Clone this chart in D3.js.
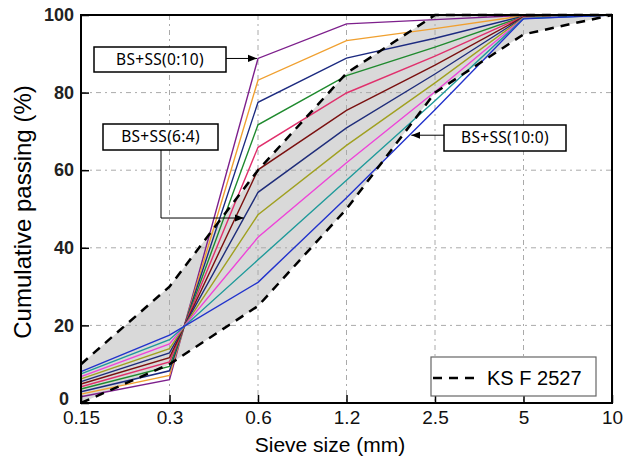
<!DOCTYPE html>
<html>
<head>
<meta charset="utf-8">
<script src="https://cdn.jsdelivr.net/npm/d3@7"></script>
<style>
  body { margin: 0; background: #fff; }
  svg { display: block; }
</style>
</head>
<body>
<div id="chart"></div>
<script>
// sieve sizes (mm), evenly spaced categories
const sieveSizes = ['0.15', '0.3', '0.6', '1.2', '2.5', '5', '10'];

// BS:SS mixing ratios, one line per ratio
const ratios = ['0:10', '1:9', '2:8', '3:7', '4:6', '5:5', '6:4', '7:3', '8:2', '9:1', '10:0'];
const lineColors = ['#7d1f8c', '#f0a030', '#1c2a80', '#1f8a2e', '#e0306c', '#7a1010',
                    '#1f2d7a', '#a0a020', '#ee44d8', '#1f9a9a', '#2233cc'];

const pass_0_10 = [1.6, 6.0, 88.8, 97.7, 98.8, 99.9, 100];
const pass_1_9  = [2.3, 7.1, 83.2, 93.4, 96.5, 99.8, 100];
const pass_2_8  = [2.9, 8.3, 77.5, 88.9, 94.0, 99.7, 100];
const pass_3_7  = [3.6, 9.4, 71.7, 84.4, 91.7, 99.6, 100];
const pass_4_6  = [4.2, 10.6, 65.9, 79.9, 89.4, 99.6, 100];
const pass_5_5  = [4.9, 11.7, 60.1, 75.4, 87.1, 99.5, 100];
const pass_6_4  = [5.5, 12.9, 54.3, 70.9, 84.8, 99.4, 100];
const pass_7_3  = [6.2, 14.0, 48.5, 66.4, 82.5, 99.3, 100];
const pass_8_2  = [6.8, 15.2, 42.7, 61.9, 80.2, 99.2, 100];
const pass_9_1  = [7.5, 16.3, 36.9, 57.4, 77.9, 99.1, 100];
const pass_10_0 = [8.1, 17.5, 31.1, 52.9, 75.6, 99.0, 100];

// KS F 2527 grading band
const ksUpper = [10, 30, 60, 85, 100, 100, 100];
const ksLower = [0, 10, 25, 50, 80, 95, 100];

const yTicks = [0, 20, 40, 60, 80, 100];

const series = [pass_0_10, pass_1_9, pass_2_8, pass_3_7, pass_4_6, pass_5_5,
                pass_6_4, pass_7_3, pass_8_2, pass_9_1, pass_10_0];

const width = 629;
const height = 460;
const plotLeft = 81, plotRight = 612, plotTop = 15, plotBottom = 403;

const svg = d3.select('#chart')
    .append('svg')
    .attr('width', width)
    .attr('height', height);

const x = d3.scalePoint()
    .domain(sieveSizes)
    .range([plotLeft, plotRight])
    .padding(0);

const y = d3.scaleLinear()
    .domain([0, 100])
    .range([plotBottom, plotTop]);

// gray band between KS limits
const band = sieveSizes.map((s, i) => ({ s: s, lo: ksLower[i], hi: ksUpper[i] }));
svg.append('path')
    .datum(band)
    .attr('d', d3.area().x(d => x(d.s)).y0(d => y(d.lo)).y1(d => y(d.hi)))
    .attr('fill', '#d9d9d9');

// grid lines
svg.append('g')
    .selectAll('line')
    .data(yTicks.filter(t => t > 0 && t < 100))
    .enter()
    .append('line')
    .attr('x1', plotLeft).attr('x2', plotRight)
    .attr('y1', d => y(d)).attr('y2', d => y(d))
    .attr('stroke', '#aaa')
    .attr('stroke-width', 1)
    .attr('stroke-dasharray', '5,4,2,4');

svg.append('g')
    .selectAll('line')
    .data(sieveSizes.slice(1, -1))
    .enter()
    .append('line')
    .attr('x1', d => x(d)).attr('x2', d => x(d))
    .attr('y1', plotTop).attr('y2', plotBottom)
    .attr('stroke', '#aaa')
    .attr('stroke-width', 1)
    .attr('stroke-dasharray', '5,4,2,4');

// mixture lines
const line = d3.line()
    .x((d, i) => x(sieveSizes[i]))
    .y(d => y(d));

svg.append('g')
    .selectAll('path')
    .data(series)
    .enter()
    .append('path')
    .attr('d', line)
    .attr('fill', 'none')
    .attr('stroke', (d, i) => lineColors[i])
    .attr('stroke-width', 1.4);

// KS limit dashed lines
[ksUpper, ksLower].forEach(lim => {
    svg.append('path')
        .datum(lim)
        .attr('d', line)
        .attr('fill', 'none')
        .attr('stroke', '#000')
        .attr('stroke-width', 2.5)
        .attr('stroke-dasharray', '9,7');
});

// axes with inward ticks
const xAxis = d3.axisBottom(x).tickSizeInner(-8).tickSizeOuter(0).tickPadding(8);
const gx = svg.append('g')
    .attr('transform', `translate(0,${plotBottom})`)
    .call(xAxis);
gx.select('.domain').remove();
gx.selectAll('line').attr('stroke', '#000').attr('stroke-width', 1.5);
gx.selectAll('text')
    .style('font-family', 'Liberation Sans, Arial, sans-serif')
    .style('font-size', '19px')
    .attr('fill', '#111');

const yAxis = d3.axisLeft(y).tickValues(yTicks).tickSizeInner(-8).tickSizeOuter(0).tickPadding(7);
const gy = svg.append('g')
    .attr('transform', `translate(${plotLeft},0)`)
    .call(yAxis);
gy.select('.domain').remove();
gy.selectAll('line').attr('stroke', '#000').attr('stroke-width', 1.5);
gy.selectAll('text')
    .style('font-family', 'Liberation Sans, Arial, sans-serif')
    .style('font-size', '18px')
    .style('font-weight', 'bold')
    .attr('fill', '#222');
gy.selectAll('.tick').filter(d => d === 0).select('text').attr('dy', '0.1em').attr('x', -12);

// frame
svg.append('rect')
    .attr('x', plotLeft).attr('y', plotTop)
    .attr('width', plotRight - plotLeft).attr('height', plotBottom - plotTop)
    .attr('fill', 'none')
    .attr('stroke', '#000')
    .attr('stroke-width', 2);

// axis titles
svg.append('text')
    .attr('x', 330)
    .attr('y', 452)
    .attr('text-anchor', 'middle')
    .style('font-family', 'Liberation Sans, Arial, sans-serif')
    .style('font-size', '21px')
    .text('Sieve size (mm)');

svg.append('text')
    .attr('transform', 'translate(31,212) rotate(-90)')
    .attr('text-anchor', 'middle')
    .style('font-family', 'Liberation Sans, Arial, sans-serif')
    .style('font-size', '24px')
    .text('Cumulative passing (%)');

// annotations
const defs = svg.append('defs');
defs.append('marker')
    .attr('id', 'arrow')
    .attr('viewBox', '0 0 10 10')
    .attr('refX', 10).attr('refY', 5)
    .attr('markerWidth', 9).attr('markerHeight', 9)
    .attr('orient', 'auto')
    .append('path')
    .attr('d', 'M0,1L10,5L0,9Z')
    .attr('fill', '#000');

function callout(label, bx, by, bw, bh, pts) {
    svg.append('path')
        .attr('d', d3.line()(pts))
        .attr('fill', 'none')
        .attr('stroke', '#000')
        .attr('stroke-width', 1)
        .attr('marker-end', 'url(#arrow)');
    svg.append('rect')
        .attr('x', bx).attr('y', by)
        .attr('width', bw).attr('height', bh)
        .attr('fill', '#fff')
        .attr('stroke', '#000')
        .attr('stroke-width', 1.5);
    svg.append('text')
        .attr('x', bx + bw / 2)
        .attr('y', by + bh / 2)
        .attr('dy', '0.35em')
        .attr('text-anchor', 'middle')
        .style('font-family', 'Noto Sans, sans-serif')
        .style('font-size', '15.5px')
        .style('letter-spacing', '0.3px')
        .text(label);
}

// arrow targets placed on the matching series
const tip0 = [x('0.6') - 1, y(pass_0_10[2])];
callout('BS+SS(0:10)', 94, 47, 132, 25, [[226, tip0[1]], tip0]);

const t64 = 0.84;
const tip64x = x('0.3') + t64 * (x('0.6') - x('0.3'));
const tip64y = y(pass_6_4[1] + t64 * (pass_6_4[2] - pass_6_4[1]));
callout('BS+SS(6:4)', 103, 124, 115, 26, [[161, 150], [161, tip64y], [tip64x, tip64y]]);

const t100 = 0.71;
const tip100x = x('1.2') + t100 * (x('2.5') - x('1.2'));
const tip100y = y(pass_10_0[3] + t100 * (pass_10_0[4] - pass_10_0[3]));
callout('BS+SS(10:0)', 444, 125, 122, 26, [[444, tip100y], [tip100x + 2, tip100y]]);

// legend
const lg = svg.append('g');
lg.append('rect')
    .attr('x', 431).attr('y', 357)
    .attr('width', 165).attr('height', 39)
    .attr('fill', '#fff')
    .attr('stroke', '#666')
    .attr('stroke-width', 1.2);
lg.append('line')
    .attr('x1', 433).attr('x2', 480)
    .attr('y1', 378).attr('y2', 378)
    .attr('stroke', '#000')
    .attr('stroke-width', 2.5)
    .attr('stroke-dasharray', '9,7');
lg.append('text')
    .attr('x', 487).attr('y', 378)
    .attr('dy', '0.35em')
    .style('font-family', 'Liberation Sans, Arial, sans-serif')
    .style('font-size', '20px')
    .text('KS F 2527');
</script>
</body>
</html>
